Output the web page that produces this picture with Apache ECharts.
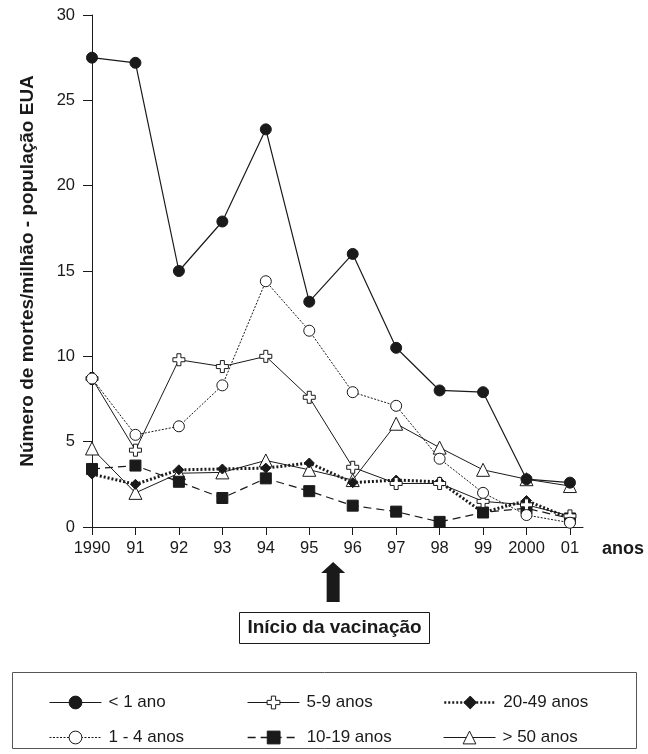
<!DOCTYPE html>
<html>
<head>
<meta charset="utf-8">
<script src="https://cdn.jsdelivr.net/npm/echarts@6/dist/echarts.min.js"></script>
<style>
  html, body { margin: 0; padding: 0; background: #fff; }
  #chart { width: 648px; height: 754px; }
</style>
</head>
<body>
<div id="chart"></div>
<script>
// anos
var years = [1990, 1991, 1992, 1993, 1994, 1995, 1996, 1997, 1998, 1999, 2000, 2001];

// mortes por milhão, por faixa etária
var menos1 = [27.5, 27.2, 15.0, 17.9, 23.3, 13.2, 16.0, 10.5, 8.0, 7.9, 2.8, 2.6];
var de1a4 = [8.7, 5.4, 5.9, 8.3, 14.4, 11.5, 7.9, 7.1, 4.0, 2.0, 0.7, 0.25];
var de5a9 = [8.7, 4.5, 9.8, 9.4, 10.0, 7.6, 3.5, 2.55, 2.55, 1.5, 1.3, 0.65];
var de10a19 = [3.4, 3.6, 2.65, 1.7, 2.85, 2.1, 1.25, 0.9, 0.3, 0.85, 1.1, 0.5];
var de20a49 = [3.1, 2.5, 3.35, 3.4, 3.45, 3.75, 2.6, 2.75, 2.65, 0.85, 1.55, 0.5];
var mais50 = [4.6, 2.0, 3.15, 3.2, 3.9, 3.35, 2.75, 6.05, 4.65, 3.35, 2.8, 2.4];

var yTicks = [0, 5, 10, 15, 20, 25, 30];

var INK = '#1a1a1a';
var FONT = 'Liberation Sans, Arial, sans-serif';
var PLUS = 'path://M4,0H8V4H12V8H8V12H4V8H0V4H4Z';

function pares(vals) {
    return years.map(function(y, i) { return [y, vals[i]]; });
}

function rotuloAno(v) {
    if (v === 1990 || v === 2000) return String(v);
    return String(v).slice(2);
}

// uma legenda por item, 3 colunas x 2 linhas
function itemLegenda(nome, left, top, largura) {
    return {
        orient: 'vertical', left: left, top: top,
        itemWidth: 52, itemHeight: 16, itemGap: 0, padding: 0,
        lineStyle: { width: largura || 1 },
        itemStyle: { borderWidth: 1 },
        textStyle: { fontSize: 17, color: INK, fontFamily: FONT, padding: [0, 0, 0, 2] },
        data: [nome]
    };
}

var myChart = echarts.init(document.getElementById('chart'), null, {renderer: 'canvas'});

var option = {
    backgroundColor: '#fff',
    animation: false,
    textStyle: { fontFamily: FONT, color: INK },
    grid: { left: 92, top: 15, width: 491, height: 512, containLabel: false },
    xAxis: {
        type: 'value',
        min: 1990,
        max: 2001.3,
        splitLine: { show: false },
        axisLine: { lineStyle: { color: INK, width: 1 } },
        axisTick: { show: true, length: 8, inside: false, customValues: years, lineStyle: { color: INK } },
        axisLabel: {
            customValues: years,
            margin: 13,
            fontSize: 16.5,
            color: INK,
            fontFamily: FONT,
            formatter: rotuloAno
        }
    },
    yAxis: {
        type: 'value',
        min: 0,
        max: 30,
        interval: 5,
        name: 'Número de mortes/milhão - população EUA',
        nameLocation: 'middle',
        nameGap: 55,
        nameTextStyle: { fontSize: 19, fontWeight: 'bold', color: INK, fontFamily: FONT },
        splitLine: { show: false },
        axisLine: { show: true, lineStyle: { color: INK, width: 1 } },
        axisTick: { show: true, length: 9, lineStyle: { color: INK } },
        axisLabel: { margin: 17, fontSize: 16.5, color: INK, fontFamily: FONT }
    },
    legend: [
        itemLegenda('< 1 ano', 49, 694),
        itemLegenda('1 - 4 anos', 49, 729),
        itemLegenda('5-9 anos', 247, 694),
        itemLegenda('10-19 anos', 247, 729, 1.3),
        itemLegenda('20-49 anos', 443, 694, 2.5),
        itemLegenda('> 50 anos', 443, 729)
    ],
    series: [
        {
            name: '> 50 anos', type: 'line', data: pares(mais50),
            symbol: 'triangle', symbolSize: 13,
            itemStyle: { color: '#fff', borderColor: INK, borderWidth: 1 },
            lineStyle: { color: INK, width: 1 }
        },
        {
            name: '10-19 anos', type: 'line', data: pares(de10a19),
            symbol: 'rect', symbolSize: 11,
            itemStyle: { color: INK, borderColor: INK },
            lineStyle: { color: INK, width: 1.2, type: [8, 5] }
        },
        {
            name: '20-49 anos', type: 'line', data: pares(de20a49),
            symbol: 'diamond', symbolSize: 10,
            itemStyle: { color: INK, borderColor: INK },
            lineStyle: { color: INK, width: 3, type: [2, 2] }
        },
        {
            name: '5-9 anos', type: 'line', data: pares(de5a9),
            symbol: PLUS, symbolSize: 12,
            itemStyle: { color: '#fff', borderColor: INK, borderWidth: 1 },
            lineStyle: { color: INK, width: 1 }
        },
        {
            name: '1 - 4 anos', type: 'line', data: pares(de1a4),
            symbol: 'circle', symbolSize: 11,
            itemStyle: { color: '#fff', borderColor: INK, borderWidth: 1 },
            lineStyle: { color: INK, width: 1, type: [2, 1.5] }
        },
        {
            name: '< 1 ano', type: 'line', data: pares(menos1),
            symbol: 'circle', symbolSize: 11,
            itemStyle: { color: INK, borderColor: INK },
            lineStyle: { color: INK, width: 1.2 }
        }
    ]
};

myChart.setOption(option);

// anotações: seta, caixa e moldura da legenda
var xs = myChart.convertToPixel({xAxisIndex: 0}, 1995.55);
myChart.setOption({
    graphic: [
        {
            type: 'text', left: 602, top: 540,
            style: { text: 'anos', fontSize: 18, fontWeight: 'bold', fill: INK, fontFamily: FONT }
        },
        {
            type: 'polygon',
            shape: { points: [[xs, 562], [xs + 12, 573], [xs + 6.5, 573], [xs + 6.5, 602], [xs - 6.5, 602], [xs - 6.5, 573], [xs - 12, 573]] },
            style: { fill: INK }
        },
        {
            type: 'rect',
            shape: { x: 239.5, y: 612.5, width: 190, height: 31 },
            style: { fill: '#fff', stroke: INK, lineWidth: 1 }
        },
        {
            type: 'text', x: 334.5, y: 628,
            style: { text: 'Início da vacinação', fontSize: 19, fontWeight: 'bold', fill: INK, fontFamily: FONT, align: 'center', verticalAlign: 'middle' }
        },
        {
            type: 'rect', z: -1,
            shape: { x: 12.5, y: 672.5, width: 624, height: 76 },
            style: { fill: '#fff', stroke: '#555', lineWidth: 1 }
        }
    ]
});
</script>
</body>
</html>
